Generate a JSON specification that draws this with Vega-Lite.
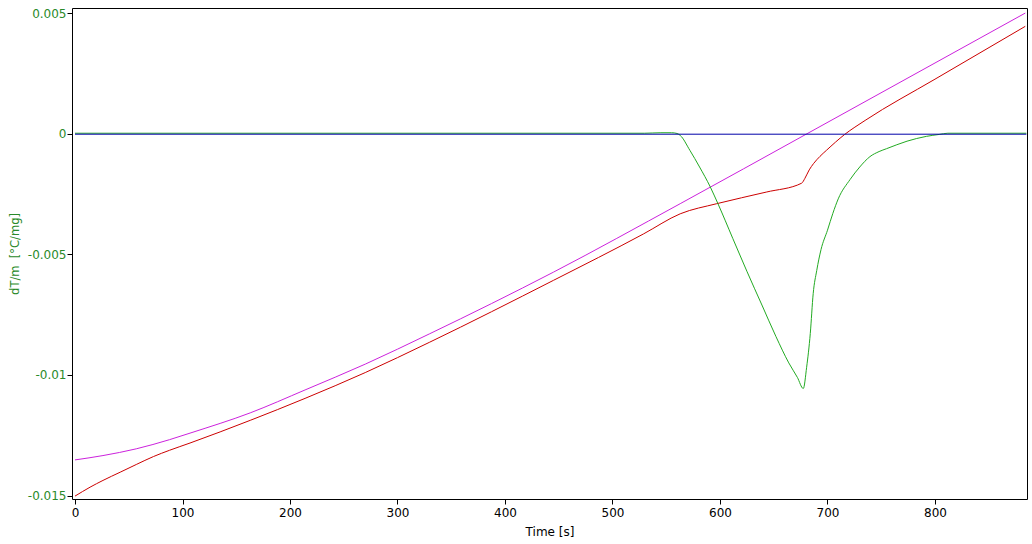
{
  "$schema": "https://vega.github.io/schema/vega-lite/v6.json",
  "width": 955,
  "height": 491,
  "autosize": {"type": "none"},
  "padding": {"left": 72, "top": 8, "right": 5, "bottom": 45},
  "background": "white",
  "config": {
    "view": {"stroke": "black", "strokeWidth": 1},
    "font": "DejaVu Sans",
    "axis": {"labelFont": "DejaVu Sans", "titleFont": "DejaVu Sans", "titleFontWeight": "normal", "labelFontSize": 12, "titleFontSize": 12, "grid": false, "domain": false, "tickColor": "black", "tickSize": 5}
  },
  "data": {
    "values": [
      {"t": 0, "v": -0.01352, "s": "M"},
      {"t": 26, "v": -0.01334, "s": "M"},
      {"t": 57, "v": -0.01306, "s": "M"},
      {"t": 88, "v": -0.01268, "s": "M"},
      {"t": 107, "v": -0.01241, "s": "M"},
      {"t": 163, "v": -0.01157, "s": "M"},
      {"t": 214, "v": -0.01062, "s": "M"},
      {"t": 270, "v": -0.00955, "s": "M"},
      {"t": 330, "v": -0.00829, "s": "M"},
      {"t": 445, "v": -0.00574, "s": "M"},
      {"t": 563, "v": -0.0029, "s": "M"},
      {"t": 681, "v": 0.0, "s": "M"},
      {"t": 884, "v": 0.005, "s": "M"},
      {"t": 0, "v": -0.01502, "s": "R"},
      {"t": 14, "v": -0.01465, "s": "R"},
      {"t": 26, "v": -0.01437, "s": "R"},
      {"t": 42, "v": -0.01403, "s": "R"},
      {"t": 57, "v": -0.01371, "s": "R"},
      {"t": 73, "v": -0.01338, "s": "R"},
      {"t": 88, "v": -0.01312, "s": "R"},
      {"t": 107, "v": -0.01282, "s": "R"},
      {"t": 163, "v": -0.01188, "s": "R"},
      {"t": 214, "v": -0.01097, "s": "R"},
      {"t": 270, "v": -0.0099, "s": "R"},
      {"t": 330, "v": -0.00864, "s": "R"},
      {"t": 445, "v": -0.00608, "s": "R"},
      {"t": 529, "v": -0.00415, "s": "R"},
      {"t": 563, "v": -0.00332, "s": "R"},
      {"t": 597, "v": -0.0029, "s": "R"},
      {"t": 643, "v": -0.00242, "s": "R"},
      {"t": 676, "v": -0.00205, "s": "R"},
      {"t": 679, "v": -0.00185, "s": "R"},
      {"t": 683, "v": -0.0015, "s": "R"},
      {"t": 687, "v": -0.00124, "s": "R"},
      {"t": 693, "v": -0.00094, "s": "R"},
      {"t": 699, "v": -0.00069, "s": "R"},
      {"t": 716, "v": -0.00003, "s": "R"},
      {"t": 735, "v": 0.00055, "s": "R"},
      {"t": 800, "v": 0.00226, "s": "R"},
      {"t": 884, "v": 0.00445, "s": "R"},
      {"t": 0, "v": 0.00002, "s": "G"},
      {"t": 530, "v": 0.00002, "s": "G"},
      {"t": 545, "v": 0.00004, "s": "G"},
      {"t": 555, "v": 0.00004, "s": "G"},
      {"t": 560, "v": 0.00001, "s": "G"},
      {"t": 563, "v": -0.00007, "s": "G"},
      {"t": 572, "v": -0.00069, "s": "G"},
      {"t": 581, "v": -0.00138, "s": "G"},
      {"t": 591, "v": -0.00221, "s": "G"},
      {"t": 598, "v": -0.00289, "s": "G"},
      {"t": 612, "v": -0.00435, "s": "G"},
      {"t": 625, "v": -0.0057, "s": "G"},
      {"t": 639, "v": -0.0071, "s": "G"},
      {"t": 652, "v": -0.0084, "s": "G"},
      {"t": 664, "v": -0.0095, "s": "G"},
      {"t": 672, "v": -0.0101, "s": "G"},
      {"t": 677.5, "v": -0.01056, "s": "G"},
      {"t": 680.6, "v": -0.00968, "s": "G"},
      {"t": 684, "v": -0.00828, "s": "G"},
      {"t": 686.7, "v": -0.00663, "s": "G"},
      {"t": 690, "v": -0.00567, "s": "G"},
      {"t": 694, "v": -0.0048, "s": "G"},
      {"t": 700, "v": -0.004, "s": "G"},
      {"t": 705, "v": -0.0033, "s": "G"},
      {"t": 710, "v": -0.0027, "s": "G"},
      {"t": 721, "v": -0.0019, "s": "G"},
      {"t": 730, "v": -0.00138, "s": "G"},
      {"t": 739.5, "v": -0.00095, "s": "G"},
      {"t": 748, "v": -0.00074, "s": "G"},
      {"t": 755, "v": -0.00062, "s": "G"},
      {"t": 774, "v": -0.00031, "s": "G"},
      {"t": 792, "v": -0.00011, "s": "G"},
      {"t": 804, "v": -0.00003, "s": "G"},
      {"t": 812, "v": 0.00002, "s": "G"},
      {"t": 885, "v": 0.00002, "s": "G"},
      {"t": 0, "v": -0.00002, "s": "B"},
      {"t": 885, "v": -0.00002, "s": "B"}
    ]
  },
  "mark": {"type": "line", "strokeWidth": 1, "clip": true, "interpolate": "monotone"},
  "encoding": {
    "x": {
      "field": "t",
      "type": "quantitative",
      "scale": {"domain": [-2.8, 885.6], "nice": false, "zero": false},
      "axis": {"title": "Time [s]", "values": [0, 100, 200, 300, 400, 500, 600, 700, 800], "labelColor": "black", "titleColor": "black", "labelPadding": 3, "titlePadding": 8}
    },
    "y": {
      "field": "v",
      "type": "quantitative",
      "scale": {"domain": [-0.01514, 0.00521], "nice": false, "zero": false},
      "axis": {"title": "dT/m\u00a0 [°C/mg]", "values": [-0.015, -0.01, -0.005, 0, 0.005], "labelExpr": "datum.value == 0 ? '0' : '' + datum.value", "labelColor": "#2a8a2a", "titleColor": "#2a8a2a", "titleFontSize": 11.5, "labelPadding": 1, "titlePadding": 7}
    },
    "color": {
      "field": "s",
      "type": "nominal",
      "scale": {"domain": ["M", "R", "G", "B"], "range": ["#cc22dd", "#cc0000", "#22aa22", "#0000a8"]},
      "legend": null
    }
  }
}
